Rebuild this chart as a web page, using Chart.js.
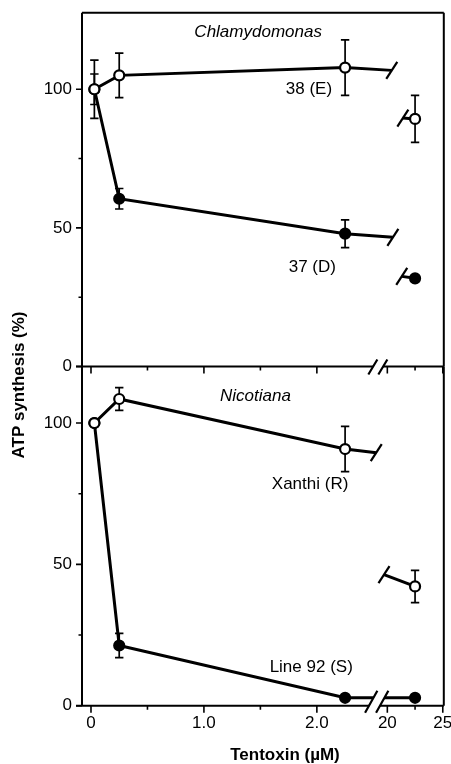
<!DOCTYPE html>
<html>
<head>
<meta charset="utf-8">
<script src="https://cdn.jsdelivr.net/npm/chart.js@4.4.1/dist/chart.umd.min.js"></script>
<style>
  html, body { margin: 0; padding: 0; background: #fff; }
  #wrap { position: relative; width: 451px; height: 764px; }
  #wrap canvas { position: absolute; left: 0; top: 0; }
</style>
</head>
<body>
<div id="wrap">
  <canvas id="topChart" width="451" height="764"></canvas>
  <canvas id="bottomChart" width="451" height="764"></canvas>
</div>
<script>
// Tentoxin concentrations (µM); the high dose sits past the axis break
const lowConc = [0.03, 0.25, 2.25];
const highConc = 22.5;

// Chlamydomonas, ATP synthesis (%)
const chlamyE = [100, 105, 107.8];
const chlamyEErr = [10.5, 8, 10];
const chlamyEHigh = 89.3, chlamyEHighErr = 8.5;
const chlamyD = [100, 60.5, 47.9];
const chlamyDErr = [5.5, 3.7, 5];
const chlamyDHigh = 31.8, chlamyDHighErr = 0;

// Nicotiana
const xanthi = [100, 108.5, 90.8];
const xanthiErr = [0, 4, 8];
const xanthiHigh = 42.2, xanthiHighErr = 5.7;
const line92 = [100, 21.3, 2.8];
const line92Err = [0, 4.3, 0];
const line92High = 2.8, line92HighErr = 0;

// where a line is cut at the break: [x, y] going out, [x, y] coming back
const chlamyECut = [[20.4, 106.8], [21.4, 89.6]];
const chlamyDCut = [[20.5, 46.6], [21.3, 32.5]];
const xanthiCut = [[19.0, 89.5], [19.7, 46.4]];

// axis ticks
const xTickVals = [0, 0.5, 1, 1.5, 2, 20, 22.5, 25];
const xTickLabels = ['0', '', '1.0', '', '2.0', '20', '', '25'];
const yTickVals = [0, 25, 50, 75, 100];
const yTickLabels = ['0', '', '50', '', '100'];

const FONT = '"Liberation Sans", Arial, Helvetica, sans-serif';

// broken x axis: 0-2.5 uM linear, 20-25 uM squeezed into the right end
const BREAK_START = 2.624, RIGHT_SCALE = 0.0982;
function bx(v) {
  return v < 10 ? v : BREAK_START + (v - 20) * RIGHT_SCALE;
}

function pts(xs, ys) {
  return xs.map((x, i) => ({ x: bx(x), y: ys[i] }));
}

// a series split in two by the break: main part + stub, stub + high-dose point
function splitSeries(vals, high, cut, filled) {
  const style = {
    borderColor: '#000',
    borderWidth: 3,
    pointBackgroundColor: filled ? '#000' : '#fff',
    pointBorderColor: '#000',
    pointBorderWidth: 2.2,
    tension: 0
  };
  const main = pts(lowConc, vals).concat([{ x: bx(cut[0][0]), y: cut[0][1] }]);
  const tail = [{ x: bx(cut[1][0]), y: cut[1][1] }, { x: bx(highConc), y: high }];
  return [
    Object.assign({ data: main, pointRadius: [5, 5, 5, 0] }, style),
    Object.assign({ data: tail, pointRadius: [0, 5] }, style)
  ];
}

function makeDecor(panel) {
  return {
    id: 'decor',
    beforeDatasetsDraw(chart) {
      const ctx = chart.ctx, xs = chart.scales.x, ys = chart.scales.y;
      ctx.save();
      ctx.strokeStyle = '#000';
      ctx.lineWidth = 1.7;
      panel.errors.forEach(s => {
        s.x.forEach((x, i) => {
          const e = s.e[i];
          if (!e) return;
          const px = xs.getPixelForValue(bx(x));
          const top = ys.getPixelForValue(s.y[i] + e);
          const bot = ys.getPixelForValue(s.y[i] - e);
          ctx.beginPath();
          ctx.moveTo(px, top); ctx.lineTo(px, bot);
          ctx.moveTo(px - 4.2, top); ctx.lineTo(px + 4.2, top);
          ctx.moveTo(px - 4.2, bot); ctx.lineTo(px + 4.2, bot);
          ctx.stroke();
        });
      });
      ctx.restore();
    },
    afterDatasetsDraw(chart) {
      const ctx = chart.ctx, xs = chart.scales.x, ys = chart.scales.y;
      const a = chart.chartArea;
      ctx.save();
      ctx.strokeStyle = '#000';

      // line cut marks
      ctx.lineWidth = 2.2;
      panel.cuts.forEach(c => {
        c.forEach(p => {
          const px = xs.getPixelForValue(bx(p[0]));
          const py = ys.getPixelForValue(p[1]);
          ctx.beginPath();
          ctx.moveTo(px - 5.5, py + 8.5);
          ctx.lineTo(px + 5.5, py - 8.5);
          ctx.stroke();
        });
      });

      // frame
      ctx.lineWidth = 2;
      ctx.beginPath();
      if (panel.frameTop) {
        ctx.moveTo(a.left, a.top); ctx.lineTo(a.right, a.top);
      }
      ctx.moveTo(a.left, a.top); ctx.lineTo(a.left, a.bottom);
      ctx.moveTo(a.right, a.top); ctx.lineTo(a.right, a.bottom);
      ctx.moveTo(a.left - 6, a.bottom); ctx.lineTo(a.right, a.bottom);
      ctx.stroke();

      // tick marks
      ctx.lineWidth = 1.6;
      ctx.beginPath();
      yTickVals.forEach((v, i) => {
        const py = ys.getPixelForValue(v);
        const len = yTickLabels[i] ? 6 : 3.5;
        ctx.moveTo(a.left, py); ctx.lineTo(a.left - len, py);
      });
      xTickVals.forEach((v, i) => {
        const px = xs.getPixelForValue(bx(v));
        const len = xTickLabels[i] ? 7 : 4;
        ctx.moveTo(px, a.bottom); ctx.lineTo(px, a.bottom + len);
      });
      ctx.stroke();

      // axis break: two slashes with a white gap between
      const b = panel.axisBreak;
      const cx = xs.getPixelForValue(b.x);
      const lowY = a.bottom + b.down, upY = a.bottom - b.up;
      const s1 = cx - b.gap / 2, s2 = cx + b.gap / 2;
      ctx.fillStyle = '#fff';
      ctx.beginPath();
      ctx.moveTo(s1 - b.w / 2, lowY); ctx.lineTo(s1 + b.w / 2, upY);
      ctx.lineTo(s2 + b.w / 2, upY); ctx.lineTo(s2 - b.w / 2, lowY);
      ctx.closePath();
      ctx.fill();
      ctx.lineWidth = 2.2;
      ctx.beginPath();
      [s1, s2].forEach(s => {
        ctx.moveTo(s - b.w / 2, lowY); ctx.lineTo(s + b.w / 2, upY);
      });
      ctx.stroke();

      // in-plot labels
      ctx.fillStyle = '#000';
      ctx.textAlign = 'center';
      ctx.textBaseline = 'middle';
      panel.labels.forEach(l => {
        ctx.font = (l.italic ? 'italic ' : '') + '17px ' + FONT;
        ctx.fillText(l.text, xs.getPixelForValue(l.x), ys.getPixelForValue(l.y));
      });

      // axis titles
      if (panel.titles) {
        ctx.font = 'bold 17px ' + FONT;
        ctx.fillText('Tentoxin (\u00b5M)', 285, 755.5);
        ctx.translate(19, 385);
        ctx.rotate(-Math.PI / 2);
        ctx.fillText('ATP synthesis (%)', 0, 0);
      }
      ctx.restore();
    }
  };
}

function panelOptions(yMax, padTop, padBottom, showX) {
  return {
    responsive: false,
    animation: false,
    layout: { padding: { top: padTop, bottom: padBottom, left: 0, right: 7 } },
    plugins: { legend: { display: false }, tooltip: { enabled: false } },
    scales: {
      x: {
        type: 'linear',
        min: -0.0796,
        max: 3.124,
        display: showX,
        grid: { display: false, drawTicks: false },
        border: { display: false },
        afterBuildTicks: s => { s.ticks = xTickVals.map(v => ({ value: bx(v) })); },
        afterFit: s => { s.height = showX ? 58.3 : 0; s.paddingLeft = 0; s.paddingRight = 0; },
        ticks: {
          autoSkip: false,
          maxRotation: 0,
          padding: 7,
          color: '#000',
          font: { family: FONT, size: 17 },
          callback: (val, i) => xTickLabels[i]
        }
      },
      y: {
        min: 0,
        max: yMax,
        grid: { display: false, drawTicks: false },
        border: { display: false },
        afterBuildTicks: s => { s.ticks = yTickVals.map(v => ({ value: v })); },
        afterFit: s => { s.width = 82; s.paddingTop = 0; s.paddingBottom = 0; },
        ticks: {
          padding: 10,
          color: '#000',
          font: { family: FONT, size: 17 },
          callback: (val, i) => yTickLabels[i]
        }
      }
    }
  };
}

// Chlamydomonas panel
const topPanel = {
  frameTop: true,
  errors: [
    { x: lowConc, y: chlamyD, e: chlamyDErr },
    { x: [highConc], y: [chlamyDHigh], e: [chlamyDHighErr] },
    { x: lowConc, y: chlamyE, e: chlamyEErr },
    { x: [highConc], y: [chlamyEHigh], e: [chlamyEHighErr] }
  ],
  cuts: [chlamyECut, chlamyDCut],
  axisBreak: { x: 2.54, w: 9, gap: 10, down: 8, up: 7 },
  labels: [
    { text: 'Chlamydomonas', x: 1.48, y: 120.7, italic: true },
    { text: '38 (E)', x: 1.93, y: 100.1 },
    { text: '37 (D)', x: 1.96, y: 35.9 }
  ]
};

new Chart(document.getElementById('topChart'), {
  type: 'line',
  data: {
    datasets: splitSeries(chlamyE, chlamyEHigh, chlamyECut, false)
      .concat(splitSeries(chlamyD, chlamyDHigh, chlamyDCut, true))
  },
  options: panelOptions(127.6, 12.7, 764 - 366.5, false),
  plugins: [makeDecor(topPanel)]
});

// Nicotiana panel
const bottomPanel = {
  frameTop: false,
  titles: true,
  errors: [
    { x: lowConc, y: line92, e: line92Err },
    { x: [highConc], y: [line92High], e: [line92HighErr] },
    { x: lowConc, y: xanthi, e: xanthiErr },
    { x: [highConc], y: [xanthiHigh], e: [xanthiHighErr] }
  ],
  cuts: [xanthiCut],
  axisBreak: { x: 2.53, w: 12.3, gap: 11, down: 7, up: 15 },
  labels: [
    { text: 'Nicotiana', x: 1.456, y: 109.4, italic: true },
    { text: 'Xanthi (R)', x: 1.94, y: 78.3 },
    { text: 'Line 92 (S)', x: 1.95, y: 13.7 }
  ]
};

const line92Data = pts(lowConc, line92).concat([{ x: bx(highConc), y: line92High }]);

new Chart(document.getElementById('bottomChart'), {
  type: 'line',
  data: {
    datasets: splitSeries(xanthi, xanthiHigh, xanthiCut, false).concat([{
      data: line92Data,
      borderColor: '#000',
      borderWidth: 3,
      pointRadius: 5,
      pointBackgroundColor: '#000',
      pointBorderColor: '#000',
      pointBorderWidth: 2.2,
      tension: 0
    }])
  },
  options: panelOptions(120, 366.5, 0, true),
  plugins: [makeDecor(bottomPanel)]
});
</script>
</body>
</html>
